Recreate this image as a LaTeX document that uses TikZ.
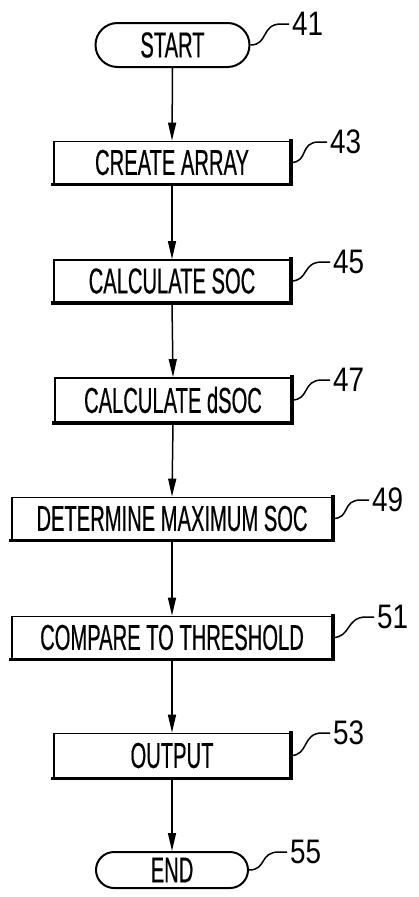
\documentclass[tikz,border=0pt]{standalone}
\usepackage{fontspec}
\setmainfont{Liberation Sans}
\newfontfamily\boxfont[FakeStretch=0.56,FakeBold=0.4]{Liberation Sans}
\newfontfamily\lblfont[FakeStretch=0.82]{Liberation Sans}
\usetikzlibrary{arrows.meta,shapes.misc}
\tikzset{
  stepbox/.style={draw, line width=1.8pt, rectangle, minimum width=236pt, minimum height=42pt,
    inner sep=0pt, font=\boxfont\fontsize{36}{40}\selectfont},
  widebox/.style={stepbox, minimum width=320pt},
  termbox/.style={draw, line width=2pt, rounded rectangle, minimum width=154pt, minimum height=44pt,
    inner sep=0pt, font=\boxfont\fontsize{36}{40}\selectfont},
  shadowline/.style={line width=3.6pt, line cap=rect},
  flow/.style={line width=1.5pt, -{Triangle[length=18pt,width=8pt]}},
  lbl/.style={anchor=west, inner xsep=3pt, inner ysep=0pt, font=\lblfont\fontsize{34}{36}\selectfont},
  leader/.style={line width=1.5pt}
}
\begin{document}
\begin{tikzpicture}[x=1pt,y=-1pt]
\useasboundingbox[fill=white] (0,0) rectangle (419,897);
\node[termbox] (s41) at (172.5,45) {START};
\node[stepbox] (s43) at (172,162.5) {CREATE ARRAY};
\node[stepbox] (s45) at (172,281) {CALCULATE SOC};
\node[stepbox, minimum height=44pt] (s47) at (173,400) {CALCULATE dSOC};
\node[widebox] (s49) at (172,518.5) {DETERMINE MAXIMUM SOC};
\node[widebox] (s51) at (172,637.5) {COMPARE TO THRESHOLD};
\node[stepbox, minimum height=44pt] (s53) at (172,755.5) {OUTPUT};
\node[termbox, minimum height=36pt, minimum width=152pt] (s55) at (172,870) {END};
\foreach \n in {s43,s45,s47,s49,s51,s53}{
  \draw[shadowline] (\n.north east) -- (\n.south east) -- (\n.south west);
}
\draw[flow] (s41.south) -- (s43.north);
\draw[flow] (s43.south) -- (s45.north);
\draw[flow] (s45.south) -- (s47.north);
\draw[flow] (s47.south) -- (s49.north);
\draw[flow] (s49.south) -- (s51.north);
\draw[flow] (s51.south) -- (s53.north);
\draw[flow] (s53.south) -- (s55.north);
\node[lbl] (l41) at (289,24) {41};
\node[lbl] (l43) at (327,142) {43};
\node[lbl] (l45) at (330,262) {45};
\node[lbl] (l47) at (330,380) {47};
\node[lbl] (l49) at (369,500) {49};
\node[lbl] (l51) at (374,617) {51};
\node[lbl] (l53) at (330,733) {53};
\node[lbl] (l55) at (287,852) {55};
\foreach \a/\b in {s41/l41,s43/l43,s45/l45,s47/l47,s49/l49,s51/l51,s53/l53,s55/l55}{
  \draw[leader] (\a.east) .. controls +(18,0) and +(-20,0) .. ([xshift=-8pt]\b.west) -- (\b.west);
}
\end{tikzpicture}
\end{document}
